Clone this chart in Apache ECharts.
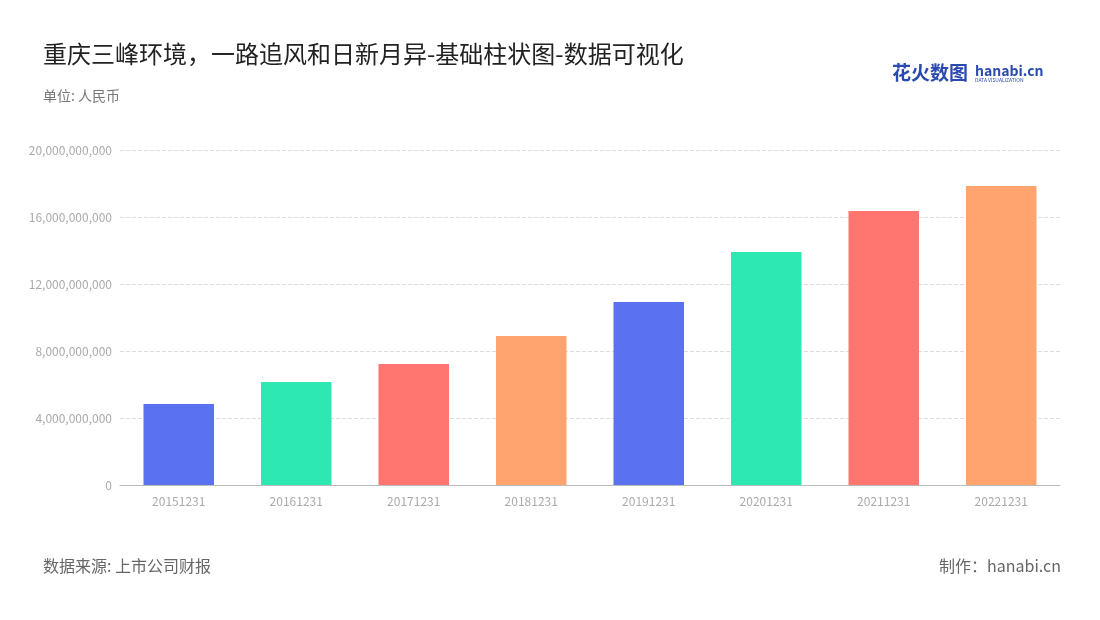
<!DOCTYPE html>
<html><head><meta charset="utf-8">
<script src="https://cdn.jsdelivr.net/npm/echarts@6/dist/echarts.min.js"></script>
<style>html,body{margin:0;padding:0;background:#fff}#c{width:1100px;height:620px}</style>
</head><body><div id="c"></div>
<script>
const categories = ['20151231','20161231','20171231','20181231','20191231','20201231','20211231','20221231'];
const values = [4840000000, 6150000000, 7220000000, 8900000000, 10930000000, 13910000000, 16360000000, 17850000000];
const colors = ['#5a72ef','#2de8b1','#ff7670','#ffa46f'];
const chart = echarts.init(document.getElementById('c'));
const F = '"Noto Sans CJK SC","Noto Sans",sans-serif';
chart.setOption({
  textStyle:{fontFamily:F},
  title:[
    {text:'重庆三峰环境，一路追风和日新月异-基础柱状图-数据可视化',left:38,top:37,textStyle:{fontSize:24,fontWeight:'normal',color:'#222',fontFamily:F}},
    {text:'单位: 人民币',left:38,top:84,textStyle:{fontSize:14,fontWeight:'normal',color:'#777',fontFamily:F}},
    {text:'数据来源: 上市公司财报',left:38,top:553,textStyle:{fontSize:16,fontWeight:'normal',color:'#666',fontFamily:F}},
    {text:'制作：hanabi.cn',right:34,top:553,textStyle:{fontSize:16,fontWeight:'normal',color:'#666',fontFamily:F}},
    {text:'花火数图',left:887,top:58,textStyle:{fontSize:19,fontWeight:'bold',color:'#2b4ab0',fontFamily:F}},
    {text:'hanabi.cn',subtext:'DATA VISUALIZATION',left:970,top:59,itemGap:0,textStyle:{fontSize:14,fontWeight:'bold',color:'#2b4ab0',fontFamily:F},subtextStyle:{fontSize:5,color:'#2b4ab0'}}
  ],
  grid:{left:120,right:40,top:150,bottom:135},
  xAxis:{type:'category',data:categories,axisTick:{show:false},
    axisLine:{lineStyle:{color:'#bbb'}},axisLabel:{color:'#aaa',fontSize:12,margin:10}},
  yAxis:{type:'value',min:0,max:20000000000,interval:4000000000,
    axisLabel:{color:'#aaa',fontSize:12,formatter:v=>v.toLocaleString('en-US')},
    splitLine:{lineStyle:{type:'dashed',color:'#ddd'}},axisLine:{show:false},axisTick:{show:false}},
  series:[{type:'bar',barWidth:'60%',data:values.map((v,i)=>({value:v,itemStyle:{color:colors[i%4]}}))}]
});
</script></body></html>
